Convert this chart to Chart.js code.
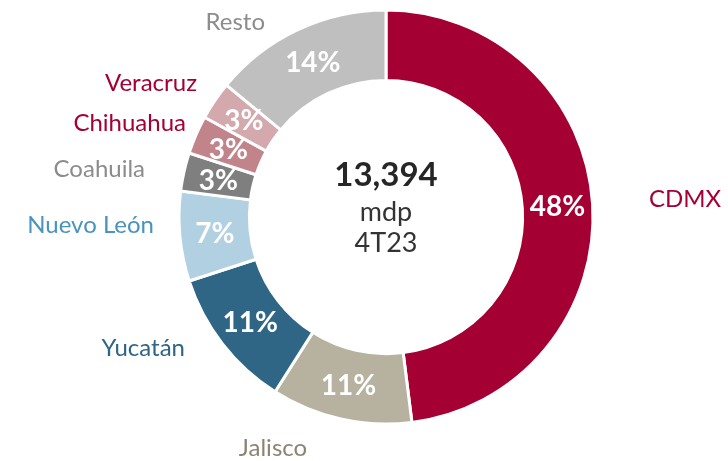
<!DOCTYPE html>
<html>
<head>
<meta charset="utf-8">
<script src="https://cdn.jsdelivr.net/npm/chart.js@4/dist/chart.umd.min.js"></script>
<style>
  html, body { margin: 0; padding: 0; background: #ffffff; }
  #wrap { width: 728px; height: 461px; position: relative; }
</style>
</head>
<body>
<div id="wrap"><canvas id="c" width="728" height="461"></canvas></div>
<script>
// ---- data ----
const categories = ["CDMX", "Jalisco", "Yucatán", "Nuevo León", "Coahuila", "Chihuahua", "Veracruz", "Resto"];
const shares = [48, 11, 11, 7, 3, 3, 3, 14];
const centerTotal = "13,394";
const centerUnit = "mdp";
const centerPeriod = "4T23";

// ---- styles ----
const sliceColors = ["#A50034", "#B6B29F", "#2F6585", "#B1D0E2", "#7F7F7F", "#C0848A", "#D4A9AE", "#BFBFBF"];
const labelColors = ["#A50034", "#8A8472", "#2F6585", "#4A93BE", "#8C8C8C", "#A50034", "#A50034", "#8C8C8C"];
// outside label placement: offset from chart centre (px) and text alignment
const labelLayout = [
  {dx: 263, dy: -18, align: "left"},
  {dx: -113, dy: 231, align: "center"},
  {dx: -201, dy: 131, align: "right"},
  {dx: -232, dy: 8, align: "right"},
  {dx: -241, dy: -48, align: "right"},
  {dx: -200, dy: -94, align: "right"},
  {dx: -189, dy: -134, align: "right"},
  {dx: -121, dy: -195, align: "right"}
];
const FONT = "Lato, 'Open Sans', sans-serif";

const labelPlugin = {
  id: "labels",
  afterDatasetsDraw(chart) {
    const ctx = chart.ctx;
    const meta = chart.getDatasetMeta(0);
    ctx.save();
    ctx.textBaseline = "middle";
    let cx = 0, cy = 0;
    meta.data.forEach((arc, i) => {
      const p = arc.getProps(["x", "y", "startAngle", "endAngle", "innerRadius", "outerRadius"], true);
      cx = p.x; cy = p.y;
      const mid = (p.startAngle + p.endAngle) / 2;
      const r = (p.innerRadius + p.outerRadius) / 2;
      ctx.fillStyle = "#ffffff";
      ctx.textAlign = "center";
      ctx.font = "bold 28px " + FONT;
      ctx.fillText(shares[i] + "%", p.x + Math.cos(mid) * r, p.y + Math.sin(mid) * r + 1);
      const L = labelLayout[i];
      ctx.fillStyle = labelColors[i];
      ctx.textAlign = L.align;
      ctx.font = "24px " + FONT;
      ctx.fillText(categories[i], p.x + L.dx, p.y + L.dy);
    });
    ctx.textAlign = "center";
    ctx.fillStyle = "#262626";
    ctx.font = "bold 33px " + FONT;
    ctx.fillText(centerTotal, cx, cy - 42);
    ctx.fillStyle = "#333333";
    ctx.font = "27px " + FONT;
    ctx.fillText(centerUnit, cx, cy - 5);
    ctx.fillText(centerPeriod, cx, cy + 26);
    ctx.restore();
  }
};

new Chart(document.getElementById("c"), {
  type: "doughnut",
  data: {
    labels: categories,
    datasets: [{
      data: shares,
      backgroundColor: sliceColors,
      borderColor: "#ffffff",
      borderWidth: 3,
      radius: 207,
      cutout: "66%"
    }]
  },
  options: {
    responsive: false,
    animation: false,
    events: [],
    layout: { padding: { left: 180, right: 136, top: 11, bottom: 38 } },
    plugins: { legend: { display: false }, tooltip: { enabled: false } }
  },
  plugins: [labelPlugin]
});
</script>
</body>
</html>
